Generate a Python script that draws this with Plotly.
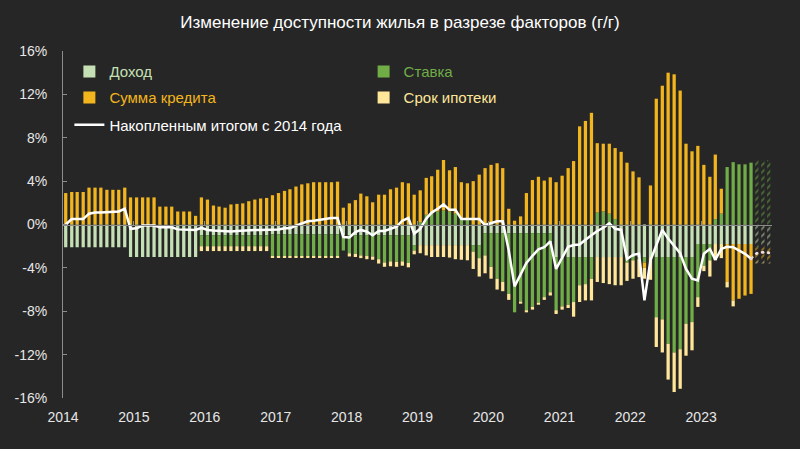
import pandas as pd
import plotly.graph_objects as go

# Monthly observations, Jan 2014 .. Dec 2023 (last three months = forecast)
months = [d + pd.Timedelta(days=14) for d in pd.date_range("2014-01-01", periods=120, freq="MS")]

income = [
    -2.1, -2.1, -2.1, -2.1, -2.1, -2.1, -2.1, -2.1, -2.1, -2.1, -2.1, -3.0,
    -3.0, -3.0, -3.0, -3.0, -3.0, -3.0, -3.0, -3.0, -3.0, -3.0, -3.0, -1.0,
    -1.0, -1.0, -1.0, -1.0, -1.0, -1.0, -1.0, -1.0, -1.0, -1.0, -1.0, -0.9,
    -0.9, -0.9, -0.9, -0.9, -0.9, -0.9, -0.9, -0.9, -0.9, -0.9, -0.9, -1.0,
    -1.0, -1.0, -1.0, -1.0, -1.0, -1.0, -1.0, -1.0, -1.0, -1.0, -1.0, -1.9,
    -1.9, -1.9, -1.9, -1.9, -1.9, -1.9, -1.9, -1.9, -1.9, -1.9, -1.9, -0.8,
    -0.8, -0.8, -0.8, -0.8, -0.8, -0.8, -0.8, -0.8, -0.8, -0.8, -0.8, -3.0,
    -3.0, -3.0, -3.0, -3.0, -3.0, -3.0, -3.0, -3.0, -3.0, -3.0, -3.0, -3.0,
    -3.0, -3.0, -3.0, -3.0, -3.0, -3.0, -3.0, -3.0, -3.0, -3.0, -3.0, -1.8,
    -1.8, -1.8, -1.8, -1.8, -1.8, -1.8, -1.8, -1.8, -1.8, -2.1, -2.1, -2.1,
]

rate = [
    0, 0, 0, 0, 0, 0, 0, 0, 0, 0, 0, 0,
    0, 0, 0, 0, 0, 0, 0, 0, 0, 0, 0, -1.0,
    -1.0, -1.0, -1.0, -1.0, -1.0, -1.0, -1.0, -1.0, -1.0, -1.0, -1.0, -2.05,
    -2.05, -2.05, -2.05, -2.05, -2.05, -2.05, -2.05, -2.05, -2.05, -2.05, -2.05, -1.4,
    -1.65, -1.7, -1.85, -1.9, -1.95, -2.2, -2.5, -2.4, -2.45, -2.4, -2.55, -0.5,
    0.2, 0.9, 1.0, 1.2, 1.3, 1.2, 1.0, 0.6, 0.6, -0.6, -1.2, -2.05,
    -3.1, -4.2, -4.5, -5.6, -7.3, -6.3, -7.1, -6.8, -6.4, -5.9, -5.45, -4.9,
    -4.55, -4.4, -4.15, -2.6, -2.5, -2.0, 1.1, 1.2, 1.0, 0.5, 0.0, -0.5,
    -0.3, -0.2, -0.5, 0.0, -5.55, -5.75, -8.0, -8.8, -8.5, -6.15, -6.0, -4.9,
    -2.0, -1.5, 0.5, 1.0, 5.3, 5.75, 5.55, 5.55, 5.7, 5.95, 5.95, 5.95,
]

loan = [
    2.9, 3.0, 3.0, 3.0, 3.4, 3.4, 3.4, 3.2, 3.2, 3.2, 3.4, 2.5,
    2.5, 2.5, 2.5, 2.5, 1.65, 1.65, 1.65, 1.2, 1.2, 1.2, 0.8, 2.5,
    2.3, 1.75, 1.65, 1.55, 1.85, 1.9, 1.95, 2.15, 2.3, 2.4, 2.45, 2.7,
    2.9, 3.1, 3.25, 3.5, 3.7, 3.8, 3.9, 3.9, 3.9, 3.9, 3.95, 1.55,
    1.95, 2.25, 2.85, 2.6, 2.05, 2.75, 2.75, 3.25, 3.4, 3.9, 3.8, 2.75,
    2.95, 3.4, 3.45, 3.85, 4.65, 3.8, 4.3, 3.3, 3.2, 4.0, 4.6, 5.2,
    5.5, 5.65, 5.2, 1.45, 0.35, 0.75, 2.9, 4.1, 4.4, 4.05, 4.35, 3.9,
    4.5, 5.2, 5.85, 9.05, 9.55, 10.3, 6.4, 6.25, 6.45, 6.55, 6.7, 5.7,
    4.9, 4.35, -0.5, 3.6, 11.6, 12.8, 14.0, 13.85, 12.35, 7.45, 6.75, 7.25,
    5.5, 4.4, 5.95, 2.3, -3.5, -5.2, -5.05, -4.75, -4.6, -1.2, -1.2, -1.2,
]

term = [
    0, 0, 0, 0, 0, 0, 0, 0, 0, 0, 0, 0,
    0, 0, 0, 0, 0, 0, 0, 0, 0, 0, 0, -0.45,
    -0.45, -0.45, -0.45, -0.45, -0.45, -0.45, -0.45, -0.45, -0.45, -0.45, -0.45, -0.1,
    -0.1, -0.1, -0.1, -0.1, -0.1, -0.1, -0.1, -0.1, -0.1, -0.1, -0.1, 0,
    -0.3, -0.3, -0.25, -0.3, -0.3, -0.4, -0.4, -0.45, -0.45, -0.4, -0.4, -0.35,
    -0.75, -0.95, -1.1, -1.1, -1.1, -1.15, -1.3, -1.35, -1.4, -1.6, -1.7, -1.65,
    -1.1, -1.0, -0.85, -0.55, 0, -0.2, -0.2, -0.25, -0.2, -0.25, -0.3, -0.35,
    -0.3, -0.3, -1.35, -1.55, -1.5, -2.0, -2.3, -2.4, -2.5, -2.6, -2.6, -1.7,
    -1.7, -1.65, -1.0, -2.1, -2.75, -3.05, -3.3, -3.65, -3.65, -2.95, -2.6, -0.9,
    -0.5, -1.5, -1.5, -1.3, -0.5, -0.55, 0, 0, 0, -0.3, -0.3, -0.3,
]

cumulative = [
    0.0, 0.5, 0.5, 0.5, 1.0, 1.1, 1.1, 1.15, 1.2, 1.2, 1.45, -0.4,
    -0.35, -0.1, -0.1, -0.1, -0.25, -0.25, -0.25, -0.45, -0.45, -0.5, -0.5, -0.3,
    -0.5, -0.55, -0.6, -0.65, -0.65, -0.6, -0.55, -0.5, -0.5, -0.5, -0.5, -0.45,
    -0.45, -0.35, -0.35, -0.1, 0.1, 0.3, 0.35, 0.45, 0.5, 0.6, 0.6, -1.15,
    -1.2, -0.7, -0.5, -0.65, -1.0, -0.6, -0.6, -0.4, -0.2, 0.35, 0.6, -0.85,
    -0.4, 0.55, 1.1, 1.45, 1.85, 1.35, 1.35, 0.5, 0.5, 0.5, 0.5, -0.05,
    0.15, 0.3, 0.3, -2.4, -5.7, -4.55, -3.55, -2.9, -2.3, -2.1, -1.55, -4.1,
    -3.0, -2.05, -1.9, -1.85, -1.4, -1.0, -0.6, -0.3, 0.1, -0.4, -0.5, -3.2,
    -2.8, -2.7, -7.0, -3.3, -1.95, -0.5, -1.3, -1.95, -2.65, -4.1, -5.0, -5.15,
    -2.7, -2.25, -3.25, -2.25, -2.05, -2.1, -2.4, -2.7, -3.15, -2.65, -2.55, -2.6,
]

n_forecast = 3
year_ticks = [str(y) for y in range(2014, 2024)]

BG = "#262626"
AX = "#8c8c8c"
C_INC = "#c5e0b4"
C_RATE = "#70ad47"
C_LOAN = "#f2b51d"
C_TERM = "#ffe699"
FONT = "Liberation Sans"

k = len(months) - n_forecast

fig = go.Figure()
series = [
    ("Доход", income, C_INC, "legend"),
    ("Ставка", rate, C_RATE, "legend2"),
    ("Сумма кредита", loan, C_LOAN, "legend3"),
    ("Срок ипотеки", term, C_TERM, "legend4"),
]
for name, vals, color, leg in series:
    fig.add_trace(go.Bar(
        x=months[:k], y=vals[:k], name=f"<span style='color:{color}'>{name}</span>",
        marker=dict(color=color, line=dict(width=0)), legend=leg, legendgroup=name,
    ))
for name, vals, color, leg in series:
    fig.add_trace(go.Bar(
        x=months[k:], y=vals[k:], name=name, showlegend=False, legendgroup=name,
        marker=dict(color=BG, line=dict(width=0),
                    pattern=dict(shape="/", fgcolor=color, bgcolor=BG, size=5, solidity=0.4)),
    ))

fig.add_trace(go.Scatter(
    x=months[:k], y=cumulative[:k], mode="lines", name="Накопленным итогом с 2014 года",
    line=dict(color="white", width=2.5), xaxis="x2", legend="legend5",
))
fig.add_trace(go.Scatter(
    x=months[k - 1:], y=cumulative[k - 1:], mode="lines+markers", showlegend=False,
    line=dict(color="#f2dcdb", width=2, dash="dot"), marker=dict(size=3, color="#f2dcdb"),
    xaxis="x2",
))

legend_common = dict(bgcolor="rgba(0,0,0,0)", font=dict(family=FONT, size=15, color="white"),
                     xanchor="left", yanchor="middle", itemwidth=30)

fig.update_layout(
    width=800, height=449,
    margin=dict(l=63, r=28, t=51, b=51),
    paper_bgcolor=BG, plot_bgcolor=BG,
    barmode="relative", bargap=0.4,
    font=dict(family=FONT, color="white"),
    title=dict(text="Изменение доступности жилья в разрезе факторов (г/г)",
               x=0.5, xanchor="center", y=0.95, yanchor="middle",
               font=dict(family=FONT, size=17, color="white")),
    xaxis=dict(type="date", range=["2014-01-01", "2024-01-01"], showgrid=False, zeroline=False,
               showline=False, ticks="", ticklabelstandoff=9,
               tickvals=[f"{y}-01-01" for y in year_ticks], ticktext=year_ticks,
               tickfont=dict(family=FONT, size=14, color="#e6e6e6")),
    xaxis2=dict(type="date", overlaying="x", matches="x", anchor="free", position=0.5,
                showgrid=False, zeroline=False, showline=True, linecolor=AX, linewidth=1,
                ticks="inside", ticklen=4, tickcolor=AX,
                tickvals=[f"{y}-01-01" for y in year_ticks], showticklabels=False),
    yaxis=dict(range=[-16, 16], tickvals=[-16, -12, -8, -4, 0, 4, 8, 12, 16],
               ticktext=[f"{v}%" for v in [-16, -12, -8, -4, 0, 4, 8, 12, 16]],
               showgrid=False, zeroline=False, showline=True, linecolor=AX, linewidth=1,
               ticks="inside", ticklen=4, tickcolor=AX, ticklabelstandoff=12,
               tickfont=dict(family=FONT, size=14, color="#e6e6e6")),
    legend=dict(x=0.009, y=0.94, **legend_common),
    legend2=dict(x=0.424, y=0.94, **legend_common),
    legend3=dict(x=0.009, y=0.865, **legend_common),
    legend4=dict(x=0.424, y=0.865, **legend_common),
    legend5=dict(x=0.009, y=0.787, **legend_common),
)

fig.write_html("out.html", config={"displayModeBar": False},
               post_script="document.body.style.margin='0';document.body.style.background='#262626';")
